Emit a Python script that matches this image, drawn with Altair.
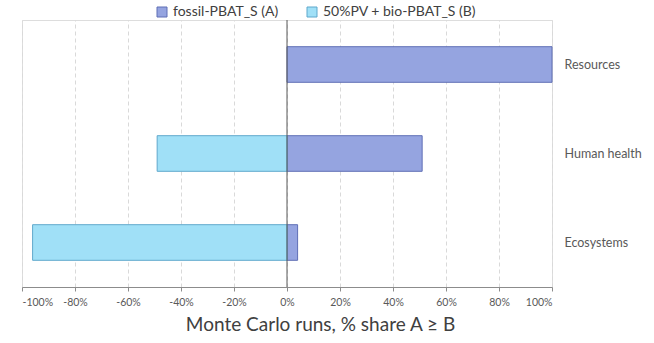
import altair as alt
import pandas as pd

categories = ["Resources", "Human health", "Ecosystems"]
series_names = ["fossil-PBAT_S (A)", "50%PV + bio-PBAT_S (B)"]
share_a = [1.00, 0.51, 0.04]
share_b = [0.00, -0.49, -0.96]
x_ticks = [-1.0, -0.8, -0.6, -0.4, -0.2, 0.0, 0.2, 0.4, 0.6, 0.8, 1.0]

rows = []
for c, a, b in zip(categories, share_a, share_b):
    rows.append({"category": c, "series": series_names[0], "value": a})
    rows.append({"category": c, "series": series_names[1], "value": b})
df = pd.DataFrame(rows)
df = df[df["value"] != 0]

FONT = "Lato"
TXT = "#595959"

label_expr = "datum.value < 0 ? '-' + format(-datum.value, '.0%') : format(datum.value, '.0%')"

bars = alt.Chart(df).mark_bar(strokeWidth=1).encode(
    x=alt.X("value:Q", stack=None,
            scale=alt.Scale(domain=[-1, 1], nice=False, zero=False),
            axis=alt.Axis(values=x_ticks, labelExpr=label_expr,
                          title="Monte Carlo runs, % share A ≥ B",
                          titleFont=FONT, titleFontSize=19, titleFontWeight="normal",
                          titleColor="#404040", titlePadding=8,
                          titleX=298, titleAlign="center",
                          labelFont=FONT, labelFontSize=10.5, labelColor=TXT,
                          labelPadding=6,
                          grid=True, gridColor="#D9D9D9", gridDash=[4, 3],
                          domainColor="#8C8C8C", tickColor="#8C8C8C", tickSize=4)),
    y=alt.Y("category:N", sort=categories,
            scale=alt.Scale(paddingInner=0.6, paddingOuter=0.3),
            axis=alt.Axis(orient="right", title=None, domain=False, ticks=False,
                          labelFont=FONT, labelFontSize=12.5, labelColor=TXT,
                          labelPadding=12)),
    color=alt.Color("series:N", sort=series_names,
                    scale=alt.Scale(domain=series_names, range=["#95A4E0", "#A0E0F7"]),
                    legend=alt.Legend(title=None, orient="none", direction="horizontal",
                                      legendX=133, legendY=-15,
                                      symbolType="square", symbolSize=100,
                                      symbolStrokeWidth=1,
                                      labelFont=FONT, labelFontSize=14, labelColor="#404040",
                                      columnPadding=26, labelOffset=4)),
    stroke=alt.Stroke("series:N", sort=series_names,
                      scale=alt.Scale(domain=series_names, range=["#5F6FB5", "#5FA8CC"]),
                      legend=None),
)

zero = alt.Chart(pd.DataFrame({"x": [0]})).mark_rule(color="#595959", strokeWidth=1).encode(
    x=alt.X("x:Q")
)

chart = alt.layer(bars, zero).properties(
    width=530, height=267,
    padding={"left": 22, "top": 20, "right": 102, "bottom": 56},
    autosize=alt.AutoSizeParams(type="none"),
).configure_view(stroke=None).configure(background="white")

chart.save("out.html", embed_options={"renderer": "svg", "actions": False})
